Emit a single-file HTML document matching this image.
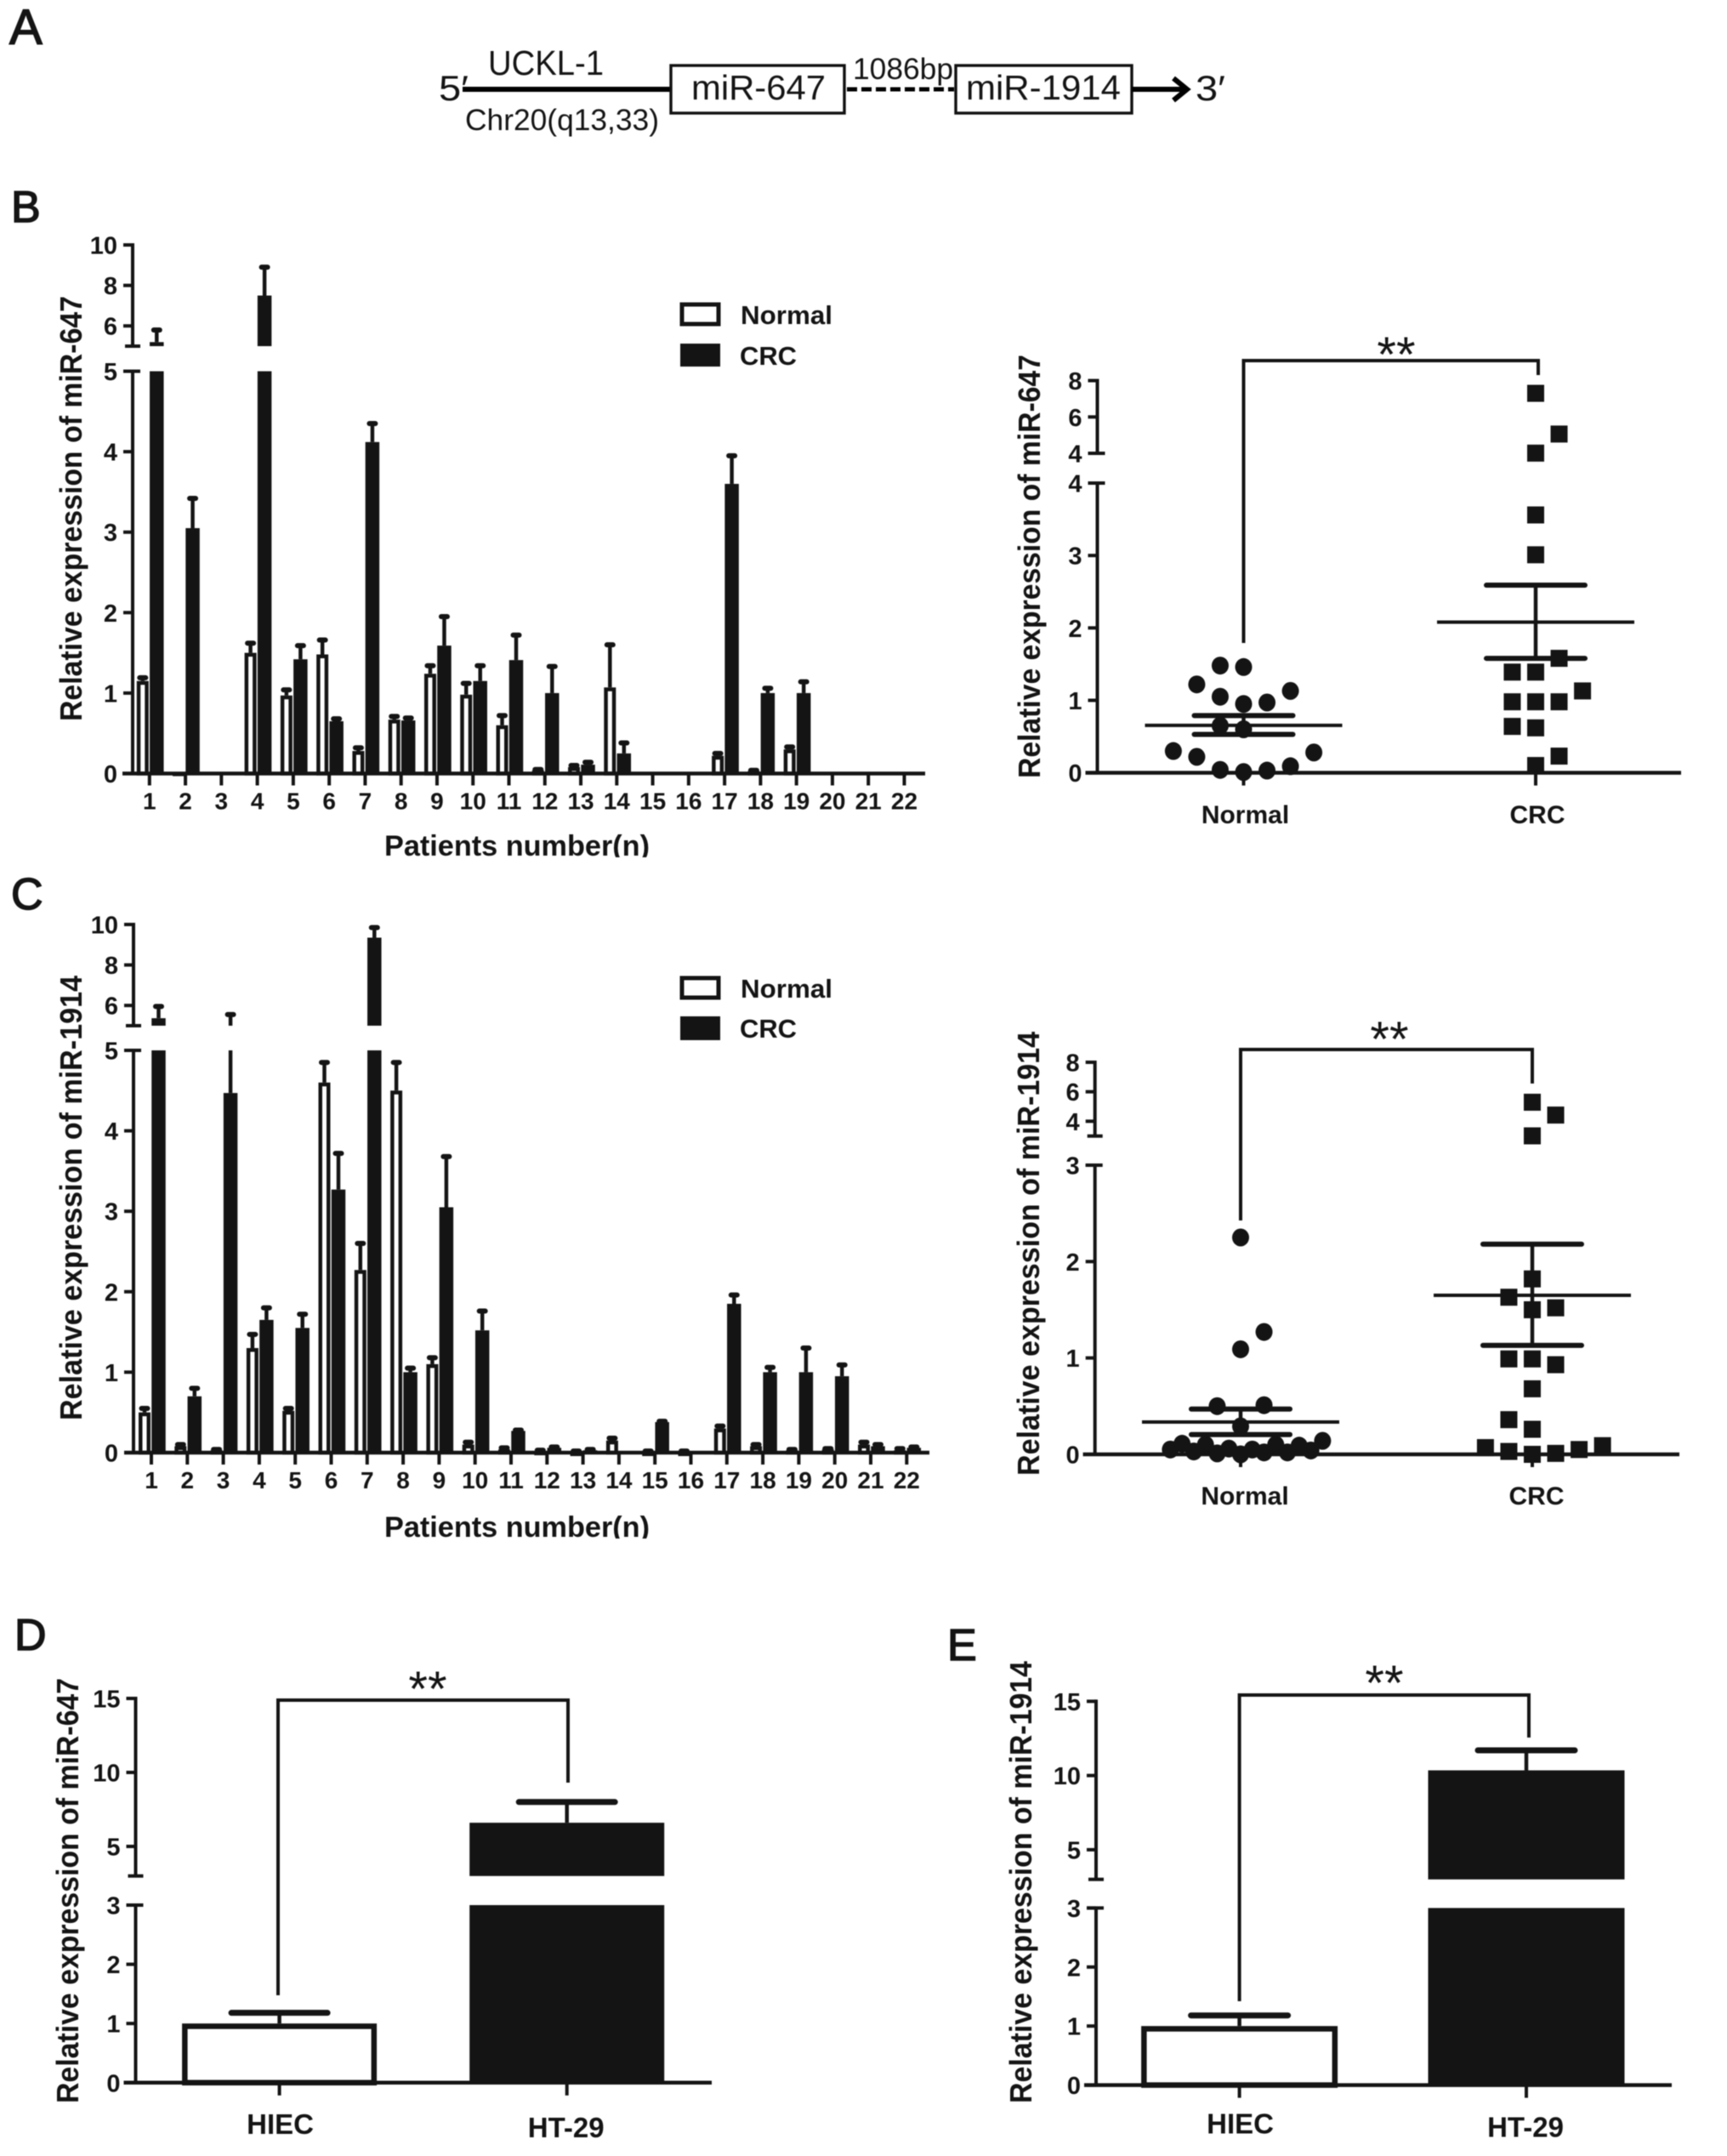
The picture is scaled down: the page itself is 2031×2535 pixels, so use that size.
<!DOCTYPE html>
<html lang="en">
<head>
<meta charset="utf-8">
<title>miR-647 and miR-1914 expression figure</title>
<style>
html,body{margin:0;padding:0;background:#fff;}
svg{display:block;filter:blur(0.6px);}
text{font-family:"Liberation Sans",sans-serif;fill:#141414;}
.b{font-weight:bold;}
.panel{stroke:#141414;stroke-width:1.5px;}
</style>
</head>
<body>
<svg id="figure" xmlns="http://www.w3.org/2000/svg" width="2031" height="2535" viewBox="0 0 2031 2535">
<defs>
<clipPath id="clip-b"><rect x="440" y="960" width="340" height="48"/></clipPath>
<clipPath id="clip-c"><rect x="440" y="1765" width="340" height="44"/></clipPath>
</defs>
<rect width="2031" height="2535" fill="#fff"/>

<text class="panel" x="11" y="52" font-size="58">A</text>
<text class="panel" x="13" y="261" font-size="52">B</text>
<text class="panel" x="13" y="1069" font-size="52">C</text>
<text class="panel" x="17" y="1940" font-size="52">D</text>
<text class="panel" x="1114" y="1952" font-size="52">E</text>

<g>
<text x="516" y="118" font-size="42" textLength="35" lengthAdjust="spacingAndGlyphs">5′</text>
<text x="574" y="88" font-size="41" textLength="136" lengthAdjust="spacingAndGlyphs">UCKL-1</text>
<text x="547" y="153" font-size="35" textLength="228" lengthAdjust="spacingAndGlyphs">Chr20(q13,33)</text>
<line x1="544" y1="105" x2="789" y2="105" stroke="#000" stroke-width="6"/>
<rect x="789" y="77" width="204" height="56" fill="#fff" stroke="#111" stroke-width="3.4"/>
<text x="813" y="117" font-size="41" textLength="158" lengthAdjust="spacingAndGlyphs">miR-647</text>
<text x="1003" y="93" font-size="35" textLength="118" lengthAdjust="spacingAndGlyphs">1086bp</text>
<line x1="996" y1="105" x2="1122" y2="105" stroke="#000" stroke-width="5" stroke-dasharray="12 5"/>
<rect x="1124" y="77" width="207" height="56" fill="#fff" stroke="#111" stroke-width="3.4"/>
<text x="1136" y="117" font-size="41" textLength="182" lengthAdjust="spacingAndGlyphs">miR-1914</text>
<line x1="1331" y1="105" x2="1394" y2="105" stroke="#000" stroke-width="6"/>
<polyline points="1380,92 1396,105 1380,118" fill="none" stroke="#000" stroke-width="6"/>
<text x="1406" y="118" font-size="42" textLength="35" lengthAdjust="spacingAndGlyphs">3′</text>
</g>

<text class="b" transform="translate(96 848) rotate(-90)" font-size="36" textLength="500" lengthAdjust="spacingAndGlyphs">Relative expression of miR-647</text>
<text class="b" x="452" y="1006" font-size="34" textLength="312" lengthAdjust="spacingAndGlyphs" clip-path="url(#clip-b)">Patients number(n)</text>
<text class="b" transform="translate(96 1670) rotate(-90)" font-size="36" textLength="523" lengthAdjust="spacingAndGlyphs">Relative expression of miR-1914</text>
<text class="b" x="452" y="1807" font-size="34" textLength="312" lengthAdjust="spacingAndGlyphs" clip-path="url(#clip-c)">Patients number(n)</text>

<g>
<rect x="802" y="358" width="43" height="23" fill="#fff" stroke="#141414" stroke-width="5"/>
<text class="b" x="871" y="381" font-size="31" textLength="108" lengthAdjust="spacingAndGlyphs">Normal</text>
<rect x="800" y="404" width="47" height="27" fill="#141414"/>
<text class="b" x="870" y="429" font-size="31" textLength="67" lengthAdjust="spacingAndGlyphs">CRC</text>
</g>
<g>
<rect x="802" y="1150" width="43" height="23" fill="#fff" stroke="#141414" stroke-width="5"/>
<text class="b" x="871" y="1173" font-size="31" textLength="108" lengthAdjust="spacingAndGlyphs">Normal</text>
<rect x="800" y="1195" width="47" height="28" fill="#141414"/>
<text class="b" x="870" y="1220" font-size="31" textLength="67" lengthAdjust="spacingAndGlyphs">CRC</text>
</g>

<text class="b" transform="translate(1223 915) rotate(-90)" font-size="36" textLength="498" lengthAdjust="spacingAndGlyphs">Relative  expression  of miR-647</text>
<polyline points="1462.5,756 1462.5,424 1809,424 1809,441" fill="none" stroke="#141414" stroke-width="4"/>
<text x="1642" y="437" font-size="58" text-anchor="middle">**</text>

<text class="b" transform="translate(1222 1735) rotate(-90)" font-size="36" textLength="522" lengthAdjust="spacingAndGlyphs">Relative  expression  of miR-1914</text>
<polyline points="1459,1435 1459,1234 1802,1234 1802,1274" fill="none" stroke="#141414" stroke-width="4"/>
<text x="1634" y="1242" font-size="58" text-anchor="middle">**</text>

<text class="b" transform="translate(92 2473) rotate(-90)" font-size="36" textLength="500" lengthAdjust="spacingAndGlyphs">Relative  expression  of miR-647</text>
<polyline points="327,2346 327,1999 668,1999 668,2096" fill="none" stroke="#141414" stroke-width="4"/>
<text x="503" y="2006" font-size="58" text-anchor="middle">**</text>

<text class="b" transform="translate(1213 2473) rotate(-90)" font-size="36" textLength="520" lengthAdjust="spacingAndGlyphs">Relative  expression  of miR-1914</text>
<polyline points="1457.6,2353 1457.6,1993 1798,1993 1798,2043" fill="none" stroke="#141414" stroke-width="4"/>
<text x="1628" y="1999" font-size="58" text-anchor="middle">**</text>
</svg>

<script>
// ---------- Panel B, patient bars (miR-647) ----------
const patientCategories = ['1','2','3','4','5','6','7','8','9','10','11','12','13','14','15','16','17','18','19','20','21','22'];
const bNormalValues = [1.15,0.02,0,1.5,0.97,1.48,0.28,0.67,1.24,0.98,0.6,0.04,0.08,1.07,0,0,0.22,0.03,0.3,0,0,0];
const bNormalErrorTops = [1.19,0.02,0,1.62,1.04,1.66,0.32,0.71,1.34,1.12,0.72,0.05,0.1,1.6,0,0,0.25,0.04,0.33,0,0,0];
const bCrcValues = [5.2,3.05,0,7.5,1.42,0.65,4.12,0.66,1.59,1.15,1.41,1.0,0.11,0.25,0,0,3.6,1.0,1.0,0,0,0];
const bCrcErrorTops = [5.8,3.42,0,8.9,1.59,0.68,4.35,0.69,1.95,1.34,1.72,1.33,0.14,0.38,0,0,3.95,1.06,1.14,0,0,0];
const patientLowerTicks = [0,1,2,3,4,5];
const patientUpperTicks = [6,8,10];

// ---------- Panel C, patient bars (miR-1914) ----------
const cNormalValues = [0.5,0.08,0.03,1.3,0.52,4.6,2.27,4.5,1.1,0.1,0.04,0.02,0.01,0.15,0.01,0.01,0.3,0.08,0.03,0.04,0.1,0.03];
const cNormalErrorTops = [0.55,0.1,0.04,1.47,0.55,4.85,2.6,4.85,1.18,0.13,0.06,0.03,0.02,0.18,0.02,0.02,0.33,0.1,0.04,0.05,0.13,0.05];
const cCrcValues = [5.37,0.7,4.47,1.65,1.55,3.27,9.35,1.0,3.05,1.52,0.27,0.06,0.03,0,0.38,0,1.85,1.0,1.0,0.95,0.08,0.06];
const cCrcErrorTops = [5.95,0.8,5.55,1.8,1.72,3.72,9.85,1.05,3.68,1.76,0.28,0.07,0.04,0,0.39,0,1.96,1.06,1.3,1.09,0.1,0.07];

// ---------- Panel B, scatter ----------
const scatterCategories = ['Normal','CRC'];
const bScatterNormal = [1.48,1.46,1.22,1.13,1.05,0.95,0.97,0.65,0.6,0.3,0.28,0.22,0.09,0.04,0.01,0.03];
const bScatterNormalSlots = [-2,0,-4,4,-2,0,2,-2,0,-6,6,-4,4,-2,0,2];
const bScatterCrc = [7.3,5.06,4.01,3.56,3.01,1.58,1.39,1.39,1.13,0.98,0.98,0.98,0.64,0.62,0.23,0.1];
const bScatterCrcSlots = [0,2,0,0,0,2,-2,0,4,-2,0,2,-2,0,2,0];
const bScatterMeans = [0.655,2.08];
const bScatterErrLow = [0.53,1.58];
const bScatterErrHigh = [0.79,2.59];
const bScatterLowerTicks = [0,1,2,3,4];
const bScatterUpperTicks = [4,6,8];

// ---------- Panel C, scatter ----------
const cScatterNormal = [2.25,1.27,1.09,0.5,0.51,0.29,0.14,0.11,0.1,0.05,0.03,0.01,0.06,0,0.05,0.02,0.1,0.02,0.09,0.04];
const cScatterNormalSlots = [0,2,0,-2,2,0,7,-5,-3,-6,-4,-2,-1,0,1,2,3,4,5,6];
const cScatterCrc = [5.29,4.42,3.01,1.82,1.63,1.5,1.52,0.99,0.99,0.93,0.68,0.36,0.26,0.07,0.09,0.03,0,0.01,0.05];
const cScatterCrcSlots = [0,2,0,0,-2,0,2,-2,0,2,0,-2,0,-4,6,-2,0,2,4];
const cScatterMeans = [0.335,1.65];
const cScatterErrLow = [0.205,1.13];
const cScatterErrHigh = [0.47,2.18];
const cScatterLowerTicks = [0,1,2,3];
const cScatterUpperTicks = [4,6,8];

// ---------- Panels D and E, cell-line bars ----------
const cellCategories = ['HIEC','HT-29'];
const dCellValues = [1.0,6.6];
const dCellErrorTops = [1.18,8.0];
const eCellValues = [1.0,10.35];
const eCellErrorTops = [1.18,11.7];
const cellLowerTicks = [0,1,2,3];
const cellUpperTicks = [5,10,15];

const INK = '#141414';
const NS = 'http://www.w3.org/2000/svg';
const svg = document.getElementById('figure');

function mk(tag, attrs, text) {
  const el = document.createElementNS(NS, tag);
  for (const k in attrs) el.setAttribute(k, attrs[k]);
  if (text !== undefined) el.textContent = text;
  svg.appendChild(el);
  return el;
}
function yScale(ax, v) {
  if (v <= ax.brk) return ax.y0 + (ax.yLow - ax.y0) * v / ax.brk;
  return ax.yUp + (ax.yTop - ax.yUp) * (v - ax.brk) / (ax.top - ax.brk);
}
function tickLabel(x, y, txt, size, anchor, name) {
  const el = mk('text', {x: x, y: y, 'font-size': size, 'text-anchor': anchor, class: 'b'}, txt);
  
  
}
function drawYAxis(ax, lower, upper, prefix) {
  let el = mk('line', {x1: ax.x, x2: ax.x, y1: ax.y0, y2: ax.yLow, stroke: INK, 'stroke-width': 4});
  
  
  el = mk('line', {x1: ax.x, x2: ax.x, y1: ax.yUp, y2: ax.yTop - 2, stroke: INK, 'stroke-width': 4});
  
  
  el = mk('line', {x1: ax.x - 9, x2: ax.x + 9, y1: ax.yUp, y2: ax.yUp, stroke: INK, 'stroke-width': 4});
  
  
  el = mk('line', {x1: ax.x - 11, x2: ax.x + 9, y1: ax.yLow, y2: ax.yLow, stroke: INK, 'stroke-width': 4});
  
  
  const all = lower.map(v => [v, yScale(ax, v)]).concat(upper.map(v => [v, yScale(ax, v === ax.brk ? v + 1e-6 : v)]));
  all.forEach(([v, y]) => {
    const t = mk('line', {x1: ax.x - 11, x2: ax.x, y1: y, y2: y, stroke: INK, 'stroke-width': 4});
    
    
    tickLabel(ax.x - 18, y + 10.5, String(v), 29, 'end', prefix + '-y-tick-label');
  });
}
function drawXAxis(ax, prefix) {
  const el = mk('line', {x1: ax.xStart, x2: ax.xEnd, y1: ax.y0, y2: ax.y0, stroke: INK, 'stroke-width': 4.5});
  
  
}
function xTick(x, ax, len, prefix) {
  const el = mk('line', {x1: x, x2: x, y1: ax.y0, y2: ax.y0 + len, stroke: INK, 'stroke-width': 4});
  
  
}
function segments(ax, from, to) {
  const out = [];
  if (from < ax.brk) out.push([yScale(ax, from), yScale(ax, Math.min(to, ax.brk))]);
  if (to > ax.brk) out.push([yScale(ax, Math.max(from, ax.brk + 1e-6)), yScale(ax, to)]);
  return out;
}
function drawBar(ax, cx, w, value, filled, stroke, name) {
  if (value <= 0) return;
  segments(ax, 0, value).forEach(([yb, yt]) => {
    const attrs = filled
      ? {x: cx - w / 2, y: yt, width: w, height: yb - yt, fill: INK}
      : {x: cx - w / 2 + stroke / 2, y: yt + stroke / 2, width: w - stroke, height: Math.max(yb - yt - stroke / 2, 0.5), fill: '#fff', stroke: INK, 'stroke-width': stroke};
    const el = mk('rect', attrs);
    
    
  });
}
function drawError(ax, cx, capW, value, top, lw, capLw, name) {
  if (top <= value) return;
  segments(ax, value, top).forEach(([yb, yt]) => {
    const el = mk('line', {x1: cx, x2: cx, y1: yb, y2: yt, stroke: INK, 'stroke-width': lw});
    
    
  });
  const y = yScale(ax, top);
  const cap = mk('line', {x1: cx - capW / 2, x2: cx + capW / 2, y1: y, y2: y, stroke: INK, 'stroke-width': capLw, 'stroke-linecap': 'round'});
  
  
}
function drawPatientChart(ax, prefix, normal, normalErr, crc, crcErr) {
  patientCategories.forEach((c, i) => {
    const x = ax.x1 + i * ax.step;
    xTick(x, ax, 14, prefix);
    tickLabel(x, ax.y0 + 42, c, 28, 'middle', prefix + '-x-tick-label');
    drawError(ax, x - 8, 7, normal[i], normalErr[i], 4.5, 6, prefix + '-normal-error-' + c);
    drawBar(ax, x - 8, 14, normal[i], false, 4.5, prefix + '-normal-bar-' + c);
    drawError(ax, x + 8.5, 7, crc[i], crcErr[i], 4.5, 6, prefix + '-crc-error-' + c);
    drawBar(ax, x + 8.5, 16.5, crc[i], true, 0, prefix + '-crc-bar-' + c);
  });
  drawXAxis(ax, prefix);
  drawYAxis(ax, patientLowerTicks, patientUpperTicks, prefix);
}
function drawScatter(ax, prefix, normal, normalSlots, crc, crcSlots, means, low, high, lower, upper) {
  const centers = [ax.xNormal, ax.xCrc];
  scatterCategories.forEach((c, i) => {
    xTick(centers[i], ax, 15, prefix);
    tickLabel(centers[i] + ax.labelShift, ax.labelY, c, 30, 'middle', prefix + '-x-tick-label');
  });
  drawXAxis(ax, prefix);
  drawYAxis(ax, lower, upper, prefix);
  normal.forEach((v, i) => {
    const el = mk('ellipse', {cx: centers[0] + normalSlots[i] * ax.slot, cy: yScale(ax, v), rx: 10, ry: 10.5, fill: INK});
    
    
  });
  crc.forEach((v, i) => {
    const s = 20;
    const el = mk('rect', {x: centers[1] + crcSlots[i] * ax.slot - s / 2, y: yScale(ax, v) - s / 2, width: s, height: s, fill: INK});
    
    
  });
  means.forEach((m, i) => {
    const cx = centers[i];
    const yM = yScale(ax, m), yL = yScale(ax, low[i]), yH = yScale(ax, high[i]);
    let el = mk('line', {x1: cx - 116, x2: cx + 116, y1: yM, y2: yM, stroke: INK, 'stroke-width': 4});
    
    
    el = mk('line', {x1: cx, x2: cx, y1: yL, y2: yH, stroke: INK, 'stroke-width': 4.5});
    
    
    [yL, yH].forEach(y => {
      const cap = mk('line', {x1: cx - 58, x2: cx + 58, y1: y, y2: y, stroke: INK, 'stroke-width': 6, 'stroke-linecap': 'round'});
      
      
    });
  });
}
function drawCellChart(ax, prefix, values, tops) {
  const centers = [ax.xA, ax.xB];
  cellCategories.forEach((c, i) => {
    xTick(centers[i], ax, 15, prefix);
    tickLabel(centers[i] + (i ? -1 : 1), ax.y0 + (i ? ax.labelB : ax.labelA), c, 33, 'middle', prefix + '-x-tick-label');
    drawError(ax, centers[i], ax.capW, values[i], tops[i], 4.5, 7, prefix + '-error-' + c);
    if (i === 0) drawBar(ax, centers[i], ax.barW, values[i], false, 6.5, prefix + '-bar-' + c);
    else drawBar(ax, centers[i], ax.barW, values[i], true, 0, prefix + '-bar-' + c);
  });
  drawXAxis(ax, prefix);
  drawYAxis(ax, cellLowerTicks, cellUpperTicks, prefix);
}

const axisBLeft = {x: 156, y0: 909.5, brk: 5, yLow: 436.5, yUp: 407, top: 10, yTop: 288, xStart: 144, xEnd: 1088, x1: 175.8, step: 42.27};
const axisCLeft = {x: 157, y0: 1708, brk: 5, yLow: 1235, yUp: 1206, top: 10, yTop: 1087, xStart: 146, xEnd: 1093, x1: 178, step: 42.3};
const axisBRight = {x: 1290.5, y0: 908.6, brk: 4, yLow: 568, yUp: 533, top: 8, yTop: 447.5, xStart: 1276.5, xEnd: 1977, xNormal: 1462.5, xCrc: 1806, slot: 13.77, labelY: 968, labelShift: 2};
const axisCRight = {x: 1287.7, y0: 1710, brk: 3, yLow: 1370, yUp: 1335.7, top: 8, yTop: 1249, xStart: 1273.6, xEnd: 1975, xNormal: 1459, xCrc: 1802, slot: 13.77, labelY: 1769, labelShift: 5};
const axisD = {x: 159.5, y0: 2448.8, brk: 3, yLow: 2240, yUp: 2205.8, top: 15, yTop: 1997, xStart: 145.5, xEnd: 837, xA: 328.6, xB: 666.7, barW: 229, capW: 113, labelA: 60, labelB: 64};
const axisE = {x: 1289, y0: 2451.6, brk: 3, yLow: 2243.4, yUp: 2209.8, top: 15, yTop: 2000.4, xStart: 1275, xEnd: 1966, xA: 1457.6, xB: 1795, barW: 231, capW: 114, labelA: 57, labelB: 61};

drawPatientChart(axisBLeft, 'b-left', bNormalValues, bNormalErrorTops, bCrcValues, bCrcErrorTops);
drawPatientChart(axisCLeft, 'c-left', cNormalValues, cNormalErrorTops, cCrcValues, cCrcErrorTops);
drawScatter(axisBRight, 'b-right', bScatterNormal, bScatterNormalSlots, bScatterCrc, bScatterCrcSlots, bScatterMeans, bScatterErrLow, bScatterErrHigh, bScatterLowerTicks, bScatterUpperTicks);
drawScatter(axisCRight, 'c-right', cScatterNormal, cScatterNormalSlots, cScatterCrc, cScatterCrcSlots, cScatterMeans, cScatterErrLow, cScatterErrHigh, cScatterLowerTicks, cScatterUpperTicks);
drawCellChart(axisD, 'd', dCellValues, dCellErrorTops);
drawCellChart(axisE, 'e', eCellValues, eCellErrorTops);
</script>
</body>
</html>
